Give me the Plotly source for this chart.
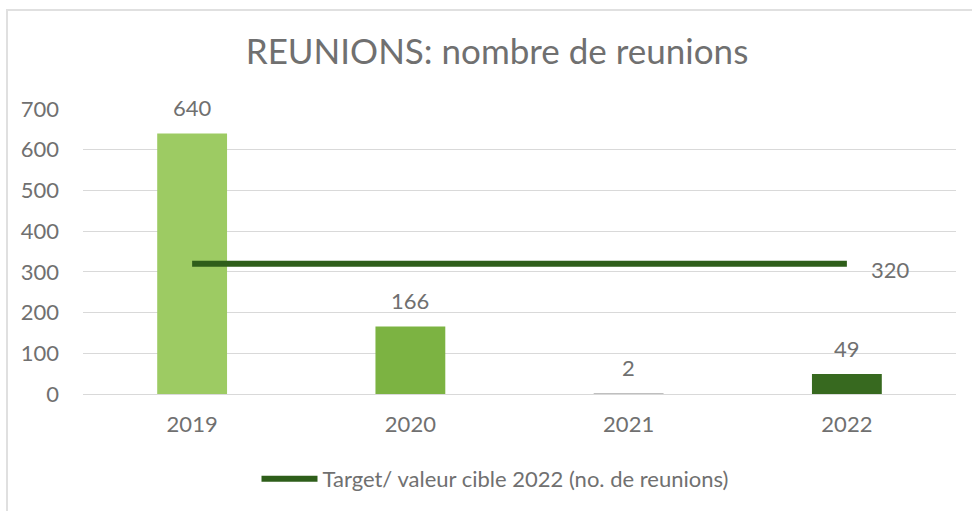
import plotly.graph_objects as go

years = ["2019", "2020", "2021", "2022"]
meetings = [640, 166, 2, 49]
target = [320, 320, 320, 320]
bar_colors = ["#9DCB63", "#7CB342", "#BFBFBF", "#37691F"]
line_color = "#2E5E1A"
text_color = "#707070"
font_family = "Lato, Open Sans, sans-serif"
FS = 22

L, R, T, B = 83, 16, 109, 117
W, H = 972, 511
pw, ph = W - L - R, H - T - B

fig = go.Figure()
fig.add_trace(go.Bar(
    x=years, y=meetings, marker=dict(color=bar_colors, line=dict(width=0)),
    showlegend=False, width=0.32, hoverinfo="x+y",
))
fig.add_trace(go.Scatter(
    x=years, y=target, mode="lines",
    line=dict(color=line_color, width=6),
    name="Target/ valeur cible 2022 (no. de reunions)",
))
for i, v in enumerate(meetings):
    fig.add_annotation(
        x=i, y=v, text=str(v), showarrow=False,
        xanchor="center", yanchor="middle", yshift=26,
        font=dict(size=FS, color=text_color, family=font_family),
    )
fig.add_annotation(
    x=len(years) - 1, y=target[-1], text=str(target[-1]), showarrow=False,
    xanchor="left", yanchor="middle", xshift=22, yshift=-6,
    font=dict(size=FS, color=text_color, family=font_family),
)

fig.update_layout(
    width=W, height=H,
    margin=dict(l=L, r=R, t=T, b=B, autoexpand=False),
    paper_bgcolor="white", plot_bgcolor="white",
    title=dict(text="REUNIONS: nombre de reunions", xref="container", yref="container",
               x=497 / W, y=1 - 52 / H, xanchor="center", yanchor="middle",
               font=dict(size=35, color=text_color, family=font_family)),
    legend=dict(orientation="h", xanchor="center", yanchor="middle",
                x=(495 - L) / pw, y=(394 - 479) / ph,
                font=dict(size=FS, color=text_color, family=font_family),
                itemwidth=56),
    xaxis=dict(type="category", categoryorder="array", categoryarray=years,
               range=[-0.5, 3.5], showgrid=False, showline=True,
               linecolor="#D9D9D9", linewidth=1,
               tickfont=dict(size=FS, color=text_color, family=font_family),
               ticks="", ticklabelstandoff=11),
    yaxis=dict(range=[0, 700], dtick=100, showgrid=True, gridcolor="#D9D9D9", gridwidth=1,
               zeroline=False, showline=False,
               tickfont=dict(size=FS, color=text_color, family=font_family),
               ticks="", ticklabelstandoff=23),
)
fig.add_shape(type="rect", xref="paper", yref="paper",
              x0=(7 - L) / pw, x1=1.2, y0=-1, y1=(394 - 10) / ph,
              line=dict(color="#E0E0E0", width=2), fillcolor="rgba(0,0,0,0)", layer="below")

fig.write_html("out.html", config={"displayModeBar": False},
               post_script="document.body.style.margin='0';")
